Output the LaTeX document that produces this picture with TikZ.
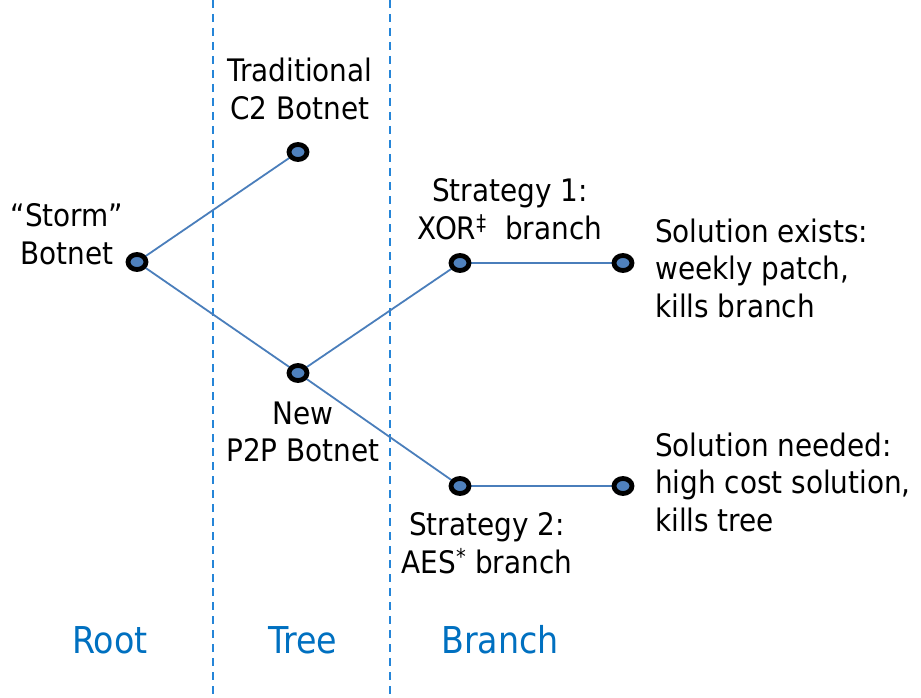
\documentclass[tikz,border=0pt]{standalone}
\usepackage{fontspec}
\setmainfont{DejaVu Sans Condensed}
\usetikzlibrary{shapes.geometric}
\definecolor{edgeblue}{HTML}{4A7EBB}
\definecolor{dotblue}{HTML}{4F81BD}
\definecolor{sepblue}{HTML}{2585D8}
\definecolor{labblue}{HTML}{0070C0}
\tikzset{
  dot/.style={ellipse, draw=black, fill=dotblue, line width=4.8pt, inner sep=0pt, minimum width=18pt, minimum height=15pt},
  edge/.style={draw=edgeblue, line width=1.8pt},
  sep/.style={draw=sepblue, line width=2pt, dash pattern=on 8pt off 6pt},
  txt/.style={font=\fontsize{31}{37.5}\selectfont, inner sep=0pt, text=black},
  lab/.style={font=\fontsize{37}{40}\selectfont, inner sep=0pt, text=labblue}
}
\begin{document}
\begin{tikzpicture}[x=1pt,y=-1pt]
\useasboundingbox (0,0) rectangle (921,698);
\coordinate (sepA1) at (213,0); \coordinate (sepA2) at (213,698);
\coordinate (sepB1) at (390,0); \coordinate (sepB2) at (390,698);
\draw[sep] (sepA1) -- (sepA2);
\draw[sep] (sepB1) -- (sepB2);
\coordinate (cStorm) at (137,262);
\coordinate (cTrad) at (298,152);
\coordinate (cP2P) at (298,373);
\coordinate (cS1) at (460,263);
\coordinate (cSol1) at (623,263);
\coordinate (cS2) at (460,486);
\coordinate (cSol2) at (623,486);
\draw[edge] (cStorm) -- (cTrad);
\draw[edge] (cStorm) -- (cP2P);
\draw[edge] (cP2P) -- (cS1);
\draw[edge] (cP2P) -- (cS2);
\draw[edge] (cS1) -- (cSol1);
\draw[edge] (cS2) -- (cSol2);
\node[dot] (dStorm) at (cStorm) {};
\node[dot] (dTrad) at (cTrad) {};
\node[dot] (dP2P) at (cP2P) {};
\node[dot] (dS1) at (cS1) {};
\node[dot] (dSol1) at (cSol1) {};
\node[dot] (dS2) at (cS2) {};
\node[dot] (dSol2) at (cSol2) {};
\node[txt, align=center] (tTrad) at (300,89) {Traditional\\C2 Botnet};
\node[txt, align=center] (tStorm) at (67,234) {“Storm”\\Botnet};
\node[txt, align=center] (tS1) at (510,209) {Strategy 1:\\XOR\textsuperscript{‡}\hspace{0.6em}branch};
\node[txt, align=left, anchor=west] (tSol1) at (655,268) {Solution exists:\\weekly patch,\\kills branch};
\node[txt, align=center] (tP2P) at (303,432) {New\\P2P Botnet};
\node[txt, align=center] (tS2) at (487,543) {Strategy 2:\\AES\textsuperscript{*} branch};
\node[txt, align=left, anchor=west] (tSol2) at (655,482) {Solution needed:\\high cost solution,\\kills tree};
\node[lab] (lRoot) at (110,640) {Root};
\node[lab] (lTree) at (303,640) {Tree};
\node[lab] (lBranch) at (500,640) {Branch};
\end{tikzpicture}
\end{document}
